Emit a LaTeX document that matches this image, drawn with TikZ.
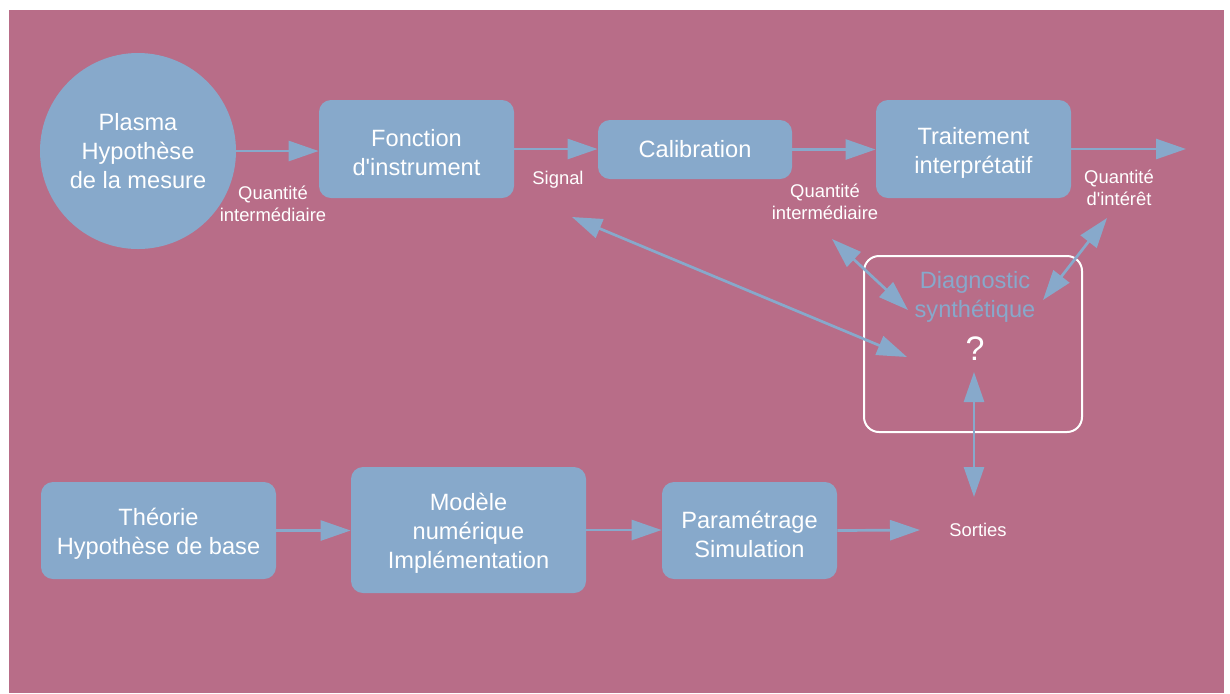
\documentclass[tikz,border=0pt]{standalone}
\usepackage{fontspec}
\setmainfont{Liberation Sans}
\usetikzlibrary{arrows.meta}
\definecolor{bgpink}{RGB}{184,109,136}
\definecolor{boxblue}{RGB}{135,169,203}
\newcommand\tpad{\rule{0pt}{12.4pt}}
\begin{document}
\begin{tikzpicture}[x=0.5pt,y=-0.5pt,
 box/.style={fill=boxblue, rounded corners=6pt, inner sep=0pt, text=white, font=\fontsize{11.8}{14.5}\selectfont, align=center},
 lab/.style={text=white, font=\fontsize{9.2}{11}\selectfont, align=center, inner sep=0pt},
 conn/.style={draw=boxblue, line width=1.35pt, -{Triangle[length=15pt,width=10pt]}},
 dconn/.style={draw=boxblue, line width=1.35pt, {Triangle[length=15pt,width=10pt]}-{Triangle[length=15pt,width=10pt]}},
]
\useasboundingbox (0,0) rectangle (1230,693);
\fill[bgpink] (9,10) rectangle (1224,693);

% top row
\node[circle, fill=boxblue, minimum size=98pt, inner sep=0pt, text=white, font=\fontsize{11.8}{14.5}\selectfont, align=center] (plasma) at (138,151) {Plasma\\Hypothèse\\de la mesure};
\node[box, minimum width=97.5pt, minimum height=49pt] (fonc) at (416.5,149) {\tpad Fonction\\d\textquotesingle instrument};
\node[box, minimum width=97pt, minimum height=29.5pt] (cal) at (695,149.5) {Calibration};
\node[box, minimum width=97.5pt, minimum height=49pt] (trait) at (973.5,149) {\tpad Traitement\\interprétatif};
\coordinate (out) at (1186,149);

\node[lab] (q1) at (273,204) {Quantité\\intermédiaire};
\node[lab] (sig) at (558,180) {Signal};
\node[lab] (q2) at (825,201.5) {Quantité\\intermédiaire};
\node[lab] (q3) at (1119,188) {Quantité\\d\textquotesingle intérêt};

\draw[conn] (plasma.east) -- (plasma.east -| fonc.west);
\draw[conn] (fonc.east) -- (fonc.east -| cal.west);
\draw[conn] (cal.east) -- (cal.east -| trait.west);
\draw[conn] (trait.east) -- (out);

% synthetic diagnostic
\node[draw=white, line width=1pt, rounded corners=7.5pt, minimum width=109pt, minimum height=88pt, inner sep=0pt] (diag) at (973,344) {};
\node[text=boxblue, font=\fontsize{11.8}{14.5}\selectfont, align=center, inner sep=0pt] (diagt) at (975,296.5) {Diagnostic\\synthétique};
\node[text=white, font=\fontsize{17}{20}\selectfont, inner sep=0pt] (qm) at (975,348.5) {?};

\coordinate (a1) at (832,239);
\coordinate (b1) at (908,310);
\coordinate (a2) at (1107,218);
\coordinate (b2) at (1043,300);
\coordinate (a3) at (572,217);
\coordinate (b3) at (907,357);
\coordinate (a4) at (974,372);
\coordinate (b4) at (974,497);
\draw[dconn] (a1) -- (b1);
\draw[dconn] (a2) -- (b2);
\draw[dconn] (a3) -- (b3);
\draw[dconn] (a4) -- (b4);

% bottom row
\node[box, minimum width=117.5pt, minimum height=48.5pt] (theo) at (158.5,530.5) {\tpad Théorie\\Hypothèse de base};
\node[box, minimum width=117.5pt, minimum height=63pt] (mod) at (468.5,530) {\tpad Modèle\\numérique\\Implémentation};
\node[box, minimum width=87.5pt, minimum height=48.5pt] (param) at (749.5,530.5) {\tpad Paramétrage\\Simulation};
\node[lab] (sorties) at (978,529.5) {Sorties};
\coordinate (sin) at (920,530);

\draw[conn] (theo.east) -- (theo.east -| mod.west);
\draw[conn] (mod.east) -- (mod.east -| param.west);
\draw[conn] (param.east) -- (sin);
\end{tikzpicture}
\end{document}
